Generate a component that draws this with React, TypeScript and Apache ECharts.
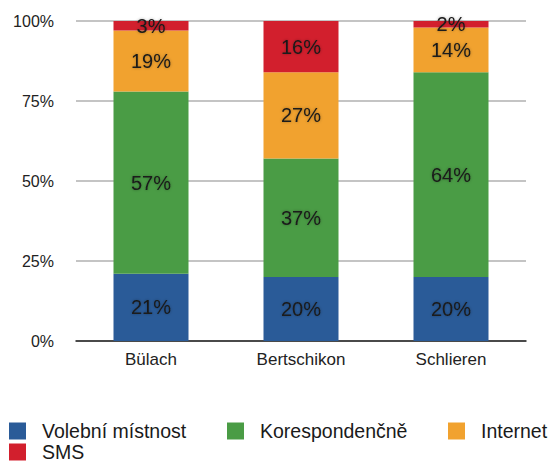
import React, { useEffect, useRef } from "react";
import * as echarts from "echarts";

const categories = ["Bülach", "Bertschikon", "Schlieren"];
const seriesNames = ["Volební místnost", "Korespondenčně", "Internet", "SMS"];
const volebni = [21, 20, 20];
const korespondencne = [57, 37, 64];
const internet = [19, 27, 14];
const sms = [3, 16, 2];
const yTicks = [0, 25, 50, 75, 100];

const colors = ["#2a5b98", "#4a9c45", "#f1a22f", "#d21f2d"];
const FONT = "'Liberation Sans', Arial, Helvetica, sans-serif";

export default function App() {
  const ref = useRef<HTMLDivElement>(null);
  useEffect(() => {
    if (!ref.current) return;
    const chart = echarts.init(ref.current, null, { renderer: "svg" });
    const values = [volebni, korespondencne, internet, sms];
    const legendPos = [
      { left: 9, top: 421 },
      { left: 227, top: 421 },
      { left: 448, top: 421 },
      { left: 9, top: 442 },
    ];
    chart.setOption({
      animation: false,
      textStyle: { fontFamily: FONT },
      grid: { left: 76, right: 25, top: 21, bottom: 122 },
      legend: seriesNames.map((n, i) => ({
        data: [n],
        left: legendPos[i].left,
        top: legendPos[i].top,
        padding: 0,
        itemWidth: 17,
        itemHeight: 17,
        icon: "rect",
        selectedMode: false,
        textStyle: {
          fontSize: 19.5,
          color: "#1a1a1a",
          fontFamily: FONT,
          padding: [0, 0, 4, 11],
          lineHeight: 14,
        },
      })),
      xAxis: {
        type: "category",
        data: categories,
        axisTick: { show: false },
        axisLine: { lineStyle: { color: "#222", width: 1.5 } },
        axisLabel: { fontSize: 17, color: "#222", margin: 10, fontFamily: FONT },
      },
      yAxis: {
        type: "value",
        min: yTicks[0],
        max: yTicks[yTicks.length - 1],
        interval: 25,
        axisLine: { show: false },
        axisTick: { show: false },
        splitLine: { lineStyle: { color: "#b0b0b0", width: 1.5 } },
        axisLabel: {
          fontSize: 16,
          color: "#222",
          margin: 22,
          fontFamily: FONT,
          formatter: "{value}%",
        },
      },
      series: seriesNames.map((n, i) => ({
        name: n,
        type: "bar",
        stack: "total",
        barWidth: 75,
        data: values[i],
        itemStyle: { color: colors[i] },
        label: {
          show: true,
          position: "inside",
          formatter: "{c}%",
          fontSize: 20,
          color: "#1a1a1a",
          fontFamily: FONT,
          textShadowColor: "rgba(0,0,0,0.35)",
          textShadowBlur: 3,
        },
      })),
    });
    return () => chart.dispose();
  }, []);
  return <div ref={ref} style={{ width: 551, height: 463, position: "absolute", left: 0, top: 0 }} />;
}
